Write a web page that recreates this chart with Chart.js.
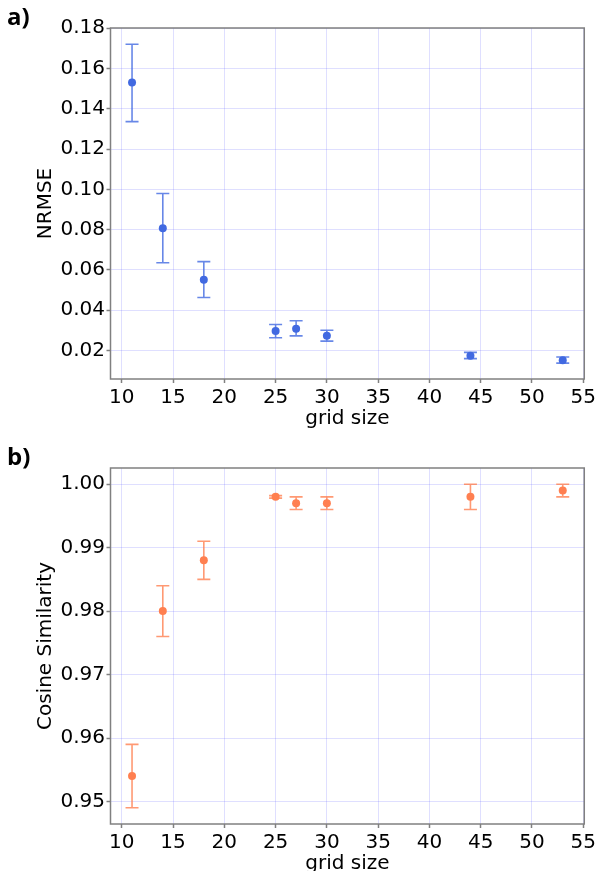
<!DOCTYPE html>
<html><head><meta charset="utf-8">
<script src="https://cdn.jsdelivr.net/npm/chart.js@4.4.1/dist/chart.umd.min.js"></script>
<style>
html,body{margin:0;padding:0;background:#fff;overflow:hidden;width:599px;height:871px;}
#wa{position:absolute;left:0;top:0;width:599px;height:435px;}
#wb{position:absolute;left:0;top:435px;width:599px;height:445px;}
</style></head><body>
<div id="wa"><canvas id="ca" width="599" height="435"></canvas></div>
<div id="wb"><canvas id="cb" width="599" height="445"></canvas></div>
<script>
// ---- data ----
const gridSizes = [11, 14, 18, 25, 27, 30, 44, 53];
const nrmseMean = [0.153, 0.0806, 0.0551, 0.0296, 0.0307, 0.0273, 0.0174, 0.0151];
const nrmseLow  = [0.1336, 0.0635, 0.0463, 0.0263, 0.0272, 0.0246, 0.0159, 0.0137];
const nrmseHigh = [0.172, 0.0979, 0.0641, 0.0329, 0.0347, 0.0300, 0.0190, 0.0167];
const cosMean = [0.954, 0.980, 0.988, 0.998, 0.997, 0.997, 0.998, 0.999];
const cosLow  = [0.949, 0.976, 0.985, 0.9978, 0.996, 0.996, 0.996, 0.998];
const cosHigh = [0.959, 0.984, 0.991, 0.9982, 0.998, 0.998, 1.000, 1.000];
const xTicks = [10, 15, 20, 25, 30, 35, 40, 45, 50, 55];
const nrmseTicks = [0.02, 0.04, 0.06, 0.08, 0.10, 0.12, 0.14, 0.16, 0.18];
const cosTicks = [0.95, 0.96, 0.97, 0.98, 0.99, 1.00];

Chart.defaults.font.family = "DejaVu Sans";
Chart.defaults.font.size = 20;
Chart.defaults.color = '#000';

const gridColor = 'rgba(80,80,255,0.18)';
const spineColor = '#808080';

const errorBarPlugin = {
  id: 'errorBars',
  beforeDatasetsDraw(chart, args, opts) {
    const ctx = chart.ctx, xs = chart.scales.x, ys = chart.scales.y;
    ctx.save();
    ctx.strokeStyle = opts.color;
    ctx.lineWidth = 1.6;
    const cap = 6.5;
    gridSizes.forEach((g, i) => {
      const px = xs.getPixelForValue(g);
      const lo = ys.getPixelForValue(opts.low[i]);
      const hi = ys.getPixelForValue(opts.high[i]);
      ctx.beginPath();
      ctx.moveTo(px, lo); ctx.lineTo(px, hi);
      ctx.moveTo(px - cap, lo); ctx.lineTo(px + cap, lo);
      ctx.moveTo(px - cap, hi); ctx.lineTo(px + cap, hi);
      ctx.stroke();
    });
    ctx.restore();
  }
};

const framePlugin = {
  id: 'frame',
  afterDraw(chart, args, opts) {
    const {left, right, top, bottom} = chart.chartArea;
    const ctx = chart.ctx;
    ctx.save();
    ctx.strokeStyle = spineColor;
    ctx.lineWidth = 1.5;
    ctx.strokeRect(left, top, right - left, bottom - top);
    ctx.fillStyle = '#000';
    ctx.font = "bold 24px 'Open Sans'";
    ctx.textBaseline = 'alphabetic';
    ctx.textAlign = 'left';
    ctx.fillText(opts.label, 7, opts.labelY);
    ctx.restore();
  }
};

function makeChart(id, mean, low, high, color, barColor, yMin, yMax, yTicks, yTitle, padTop, label, labelY) {
  return new Chart(document.getElementById(id), {
    type: 'scatter',
    data: { datasets: [{
      data: gridSizes.map((x, i) => ({x: x, y: mean[i]})),
      backgroundColor: color, borderColor: color,
      pointRadius: 4, pointBorderWidth: 0, pointHoverRadius: 4
    }]},
    options: {
      responsive: false, animation: false, devicePixelRatio: 1,
      layout: { padding: { top: padTop, left: 0, right: 13.5, bottom: 0 } },
      plugins: {
        legend: { display: false }, tooltip: { enabled: false },
        errorBars: { low: low, high: high, color: barColor },
        frame: { label: label, labelY: labelY }
      },
      scales: {
        x: {
          type: 'linear', min: 8.9, max: 55.1,
          afterBuildTicks: s => { s.ticks = xTicks.map(v => ({value: v})); },
          afterFit: s => { s.height = 56; },
          grid: { color: gridColor, lineWidth: 1, tickColor: spineColor, tickLength: 4, tickWidth: 1.5 },
          border: { display: false },
          ticks: { color: '#000', padding: 3, maxRotation: 0, autoSkip: false, callback: v => String(v) },
          title: { display: true, text: 'grid size', color: '#000', padding: { top: 0, bottom: 4 } }
        },
        y: {
          type: 'linear', min: yMin, max: yMax,
          afterBuildTicks: s => { s.ticks = yTicks.map(v => ({value: v})); },
          afterFit: s => { s.width = 110.5; },
          grid: { color: gridColor, lineWidth: 1, tickColor: spineColor, tickLength: 4, tickWidth: 1.5 },
          border: { display: false },
          ticks: { color: '#000', padding: 1.5, autoSkip: false, callback: v => v.toFixed(2) },
          title: { display: true, text: yTitle, color: '#000', padding: { top: 34, bottom: 0 } }
        }
      }
    },
    plugins: [errorBarPlugin, framePlugin]
  });
}

makeChart('ca', nrmseMean, nrmseLow, nrmseHigh, '#4169E1', 'rgba(65,105,225,0.8)',
  0.0058, 0.1801, nrmseTicks, 'NRMSE', 28, 'a)', 25);
makeChart('cb', cosMean, cosLow, cosHigh, '#FF7F50', 'rgba(255,127,80,0.8)',
  0.94645, 1.00255, cosTicks, 'Cosine Similarity', 33, 'b)', 30);
</script>
</body></html>
